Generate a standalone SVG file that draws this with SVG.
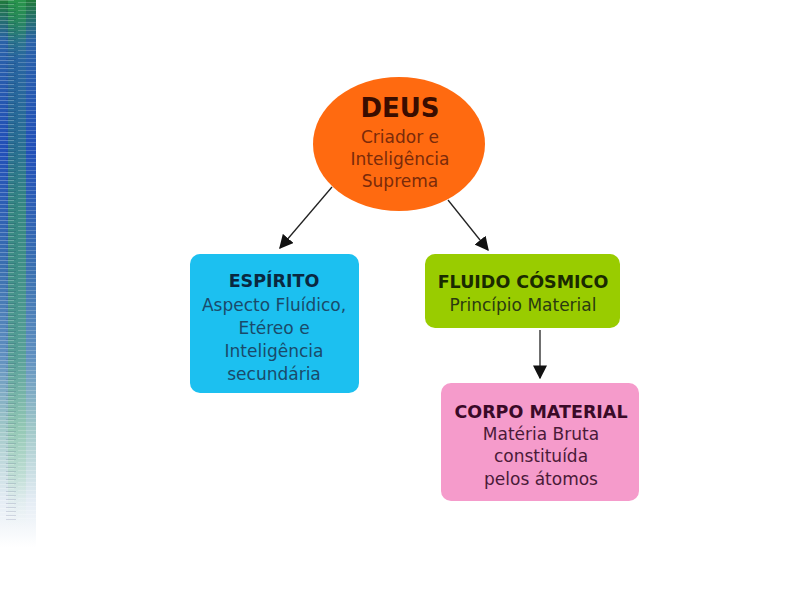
<svg xmlns="http://www.w3.org/2000/svg" width="794" height="595" viewBox="0 0 794 595">
<defs>
<linearGradient id="strip" x1="0" y1="0" x2="0" y2="1">
<stop offset="0" stop-color="#1f7a3a"/>
<stop offset="0.07" stop-color="#2a62a8"/>
<stop offset="0.25" stop-color="#2250b8"/>
<stop offset="0.45" stop-color="#3a70b0"/>
<stop offset="0.6" stop-color="#6090c0"/>
<stop offset="0.72" stop-color="#a0c8c8"/>
<stop offset="0.84" stop-color="#e4ecf4"/>
<stop offset="0.92" stop-color="#ffffff"/>
</linearGradient>
<linearGradient id="green" x1="0" y1="0" x2="0" y2="1">
<stop offset="0" stop-color="#2a9a50" stop-opacity="0.8"/>
<stop offset="0.1" stop-color="#2a9a50" stop-opacity="0.1"/>
<stop offset="0.35" stop-color="#3aa060" stop-opacity="0.6"/>
<stop offset="0.6" stop-color="#50b070" stop-opacity="0.5"/>
<stop offset="0.8" stop-color="#a0d8b0" stop-opacity="0.3"/>
<stop offset="0.9" stop-color="#ffffff" stop-opacity="0"/>
</linearGradient>
<pattern id="lines" width="36" height="4" patternUnits="userSpaceOnUse">
<rect x="0" y="0" width="14" height="1" fill="#ffffff" opacity="0.25"/>
<rect x="18" y="2" width="18" height="1" fill="#ffffff" opacity="0.2"/>
<rect x="6" y="3" width="10" height="1" fill="#000040" opacity="0.12"/>
</pattern>
<marker id="ah" viewBox="0 0 10 10" refX="9" refY="5" markerWidth="14" markerHeight="14" markerUnits="userSpaceOnUse" orient="auto">
<path d="M0,0 L10,5 L0,10 z" fill="#111"/>
</marker>
<style>
text{font-family:"DejaVu Sans","Liberation Sans",sans-serif;text-anchor:middle}
.t{font-weight:bold;font-size:17.5px}
.s{font-size:17px}
.conn line{stroke:#222;stroke-width:1.3;marker-end:url(#ah)}
</style>
</defs>
<rect width="794" height="595" fill="#ffffff"/>
<rect x="0" y="0" width="36" height="595" fill="url(#strip)"/>
<rect x="8" y="0" width="18" height="595" fill="url(#green)"/>
<rect x="0" y="0" width="36" height="520" fill="url(#lines)"/>
<g class="conn">
<line x1="332" y1="187" x2="280" y2="248"/>
<line x1="448" y1="200" x2="488" y2="250"/>
<line x1="540" y1="330" x2="540" y2="378"/>
</g>
<g id="deus">
<ellipse cx="399" cy="144" rx="86" ry="67" fill="#ff6a10"/>
<text x="400" y="117" font-weight="bold" font-size="26" fill="#3a0d00">DEUS</text>
<text class="s" x="400" y="143" fill="#7a2a0a">Criador e</text>
<text class="s" x="400" y="165" fill="#7a2a0a">Inteligência</text>
<text class="s" x="400" y="187" fill="#7a2a0a">Suprema</text>
</g>
<g id="espirito">
<rect x="190" y="254" width="169" height="139" rx="10" fill="#1cc0f0"/>
<text class="t" x="274" y="287" fill="#0a2840">ESPÍRITO</text>
<text class="s" x="274" y="311" fill="#1a4a6a">Aspecto Fluídico,</text>
<text class="s" x="274" y="334" fill="#1a4a6a">Etéreo e</text>
<text class="s" x="274" y="357" fill="#1a4a6a">Inteligência</text>
<text class="s" x="274" y="380" fill="#1a4a6a">secundária</text>
</g>
<g id="fluido">
<rect x="425" y="254" width="195" height="74" rx="10" fill="#99cc00"/>
<text class="t" x="523" y="288" fill="#1a2a00">FLUIDO CÓSMICO</text>
<text class="s" x="523" y="311" fill="#2a3a10">Princípio Material</text>
</g>
<g id="corpo">
<rect x="441" y="383" width="198" height="118" rx="10" fill="#f59bcb"/>
<text class="t" x="541" y="418" fill="#3a0a28">CORPO MATERIAL</text>
<text class="s" x="541" y="440" fill="#4a1a38">Matéria Bruta</text>
<text class="s" x="541" y="462" fill="#4a1a38">constituída</text>
<text class="s" x="541" y="485" fill="#4a1a38">pelos átomos</text>
</g>
</svg>
